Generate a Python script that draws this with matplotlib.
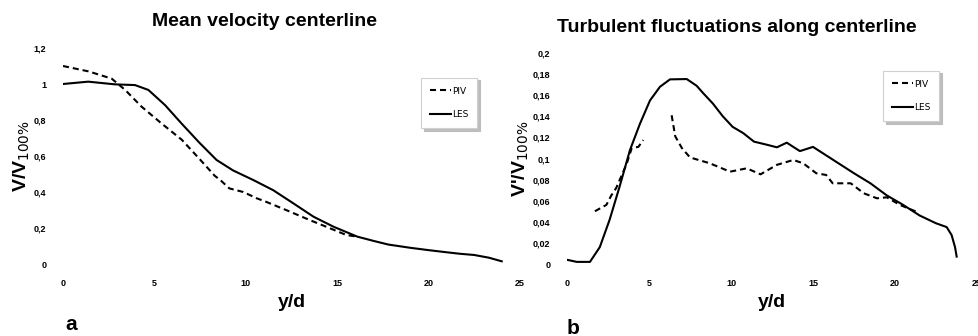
import matplotlib
matplotlib.use("Agg")
import matplotlib.pyplot as plt
from matplotlib.ticker import FuncFormatter

# panel a: mean velocity along centerline
a_piv_x = [0, 1.4, 2.66, 3.4, 4.3, 5.4, 6.5, 7.5, 8.3, 8.6, 9.1, 9.86, 10.6, 11.1, 12.2, 13.5, 14.4, 15.5, 16.1]
a_piv_y = [1.10, 1.07, 1.03, 0.967, 0.874, 0.78, 0.69, 0.58, 0.49, 0.467, 0.42, 0.40, 0.365, 0.346, 0.30, 0.244, 0.207, 0.161, 0.152]
a_les_x = [0, 1.38, 2.85, 3.94, 4.67, 5.58, 6.49, 7.45, 8.4, 9.3, 10.4, 11.5, 12.6, 13.7, 14.8, 16.1, 17.0, 17.8, 19.0, 20.0, 21.0, 21.7, 22.5, 23.3, 24.0]
a_les_y = [1.0, 1.013, 0.998, 0.994, 0.967, 0.883, 0.78, 0.675, 0.578, 0.52, 0.467, 0.41, 0.337, 0.263, 0.207, 0.152, 0.128, 0.108, 0.09, 0.077, 0.065, 0.057, 0.05, 0.035, 0.015]

# panel b: turbulent fluctuations along centerline
b_piv1_x = [1.7, 2.4, 2.7, 3.0, 3.64, 3.95, 4.35, 4.65]
b_piv1_y = [0.050, 0.056, 0.065, 0.072, 0.095, 0.110, 0.111, 0.1175]
b_piv2_x = [6.38, 6.6, 7.0, 7.5, 8.7, 9.94, 10.96, 11.8, 12.8, 13.8, 14.4, 15.2, 15.8, 16.2, 17.3, 18.1, 18.9, 19.5, 20.3, 21.3]
b_piv2_y = [0.141, 0.121, 0.110, 0.101, 0.0955, 0.0875, 0.0907, 0.085, 0.094, 0.0986, 0.0955, 0.086, 0.0844, 0.0765, 0.0765, 0.067, 0.0623, 0.0632, 0.056, 0.0496]
b_les_x = [0, 0.6, 1.4, 2.0, 2.6, 3.2, 3.84, 4.45, 5.06, 5.67, 6.28, 7.3, 7.9, 8.3, 8.9, 9.5, 10.1, 10.75, 11.4, 12.2, 12.8, 13.4, 14.2, 15.0, 15.8, 16.4, 17.5, 18.5, 19.5, 20.5, 21.5, 22.5, 23.15, 23.45, 23.66, 23.76]
b_les_y = [0.004, 0.002, 0.002, 0.016, 0.042, 0.073, 0.108, 0.133, 0.155, 0.168, 0.175, 0.1753, 0.169, 0.162, 0.152, 0.140, 0.130, 0.124, 0.116, 0.113, 0.1106, 0.115, 0.107, 0.111, 0.103, 0.097, 0.086, 0.0765, 0.065, 0.056, 0.046, 0.0386, 0.035, 0.0275, 0.016, 0.007]

a_yticks = [0, 0.2, 0.4, 0.6, 0.8, 1.0, 1.2]
b_yticks = [0, 0.02, 0.04, 0.06, 0.08, 0.1, 0.12, 0.14, 0.16, 0.18, 0.2]
xticks = [0, 5, 10, 15, 20, 25]

W, H = 979, 336
font = "Liberation Sans"
dash = (0, (2.9, 1.9))


def comma(v, pos):
	s = f"{v:.2f}".rstrip("0").rstrip(".")
	return s.replace(".", ",")


def style_axes(ax, ymax, yticks):
	ax.set_xlim(0, 25)
	ax.set_ylim(0, ymax)
	ax.set_xticks(xticks)
	ax.set_yticks(yticks)
	ax.yaxis.set_major_formatter(FuncFormatter(comma))
	for s in ax.spines.values():
		s.set_visible(False)
	ax.tick_params(length=0, labelsize=6.5)
	ax.tick_params(axis="x", pad=11)
	ax.tick_params(axis="y", pad=12)
	for lab in ax.get_xticklabels() + ax.get_yticklabels():
		lab.set_fontweight("bold")
		lab.set_family(font)


def add_legend(ax, x, y):
	leg = ax.legend(loc="upper right", bbox_to_anchor=(x / W, 1 - y / H), bbox_transform=fig.transFigure,
		fontsize=6.5, frameon=True, fancybox=False, shadow={"color": "#bdbdbd", "alpha": 1},
		handlelength=2.3, labelspacing=1.6, borderpad=1.0, handletextpad=0.1)
	leg.get_frame().set_edgecolor("#d0d0d0")
	leg.get_frame().set_linewidth(0.8)
	return leg


fig = plt.figure(figsize=(W / 100, H / 100), dpi=100)

ax_a = fig.add_axes([63 / W, (H - 264) / H, (520 - 63) / W, (264 - 48) / H])
ax_a.plot(a_piv_x, a_piv_y, color="black", lw=1.5, ls=dash, label="PIV")
ax_a.plot(a_les_x, a_les_y, color="black", lw=1.5, label="LES")
style_axes(ax_a, 1.2, a_yticks)
ax_a.set_ylabel("V/V$_{100\\%}$", fontsize=14, fontweight="bold", family=font, labelpad=1)
ax_a.set_xlabel("y/d", fontsize=14, fontweight="bold", family=font, labelpad=4)
fig.text(265 / W, 1 - 22 / H, "Mean velocity centerline", ha="center", va="center",
	fontsize=14, fontweight="bold", family=font)
fig.text(65 / W, 1 - 325 / H, "a", ha="left", va="center", fontsize=15, fontweight="bold", family=font)
add_legend(ax_a, 482, 73)

ax_b = fig.add_axes([567 / W, (H - 264) / H, (977 - 567) / W, (264 - 53) / H])
ax_b.plot(b_piv1_x, b_piv1_y, color="black", lw=1.5, ls=dash, label="PIV")
ax_b.plot(b_les_x, b_les_y, color="black", lw=1.5, label="LES")
ax_b.plot(b_piv2_x, b_piv2_y, color="black", lw=1.5, ls=dash)
style_axes(ax_b, 0.2, b_yticks)
ax_b.set_ylabel("V'/V$_{100\\%}$", fontsize=14, fontweight="bold", family=font, labelpad=1)
ax_b.set_xlabel("y/d", fontsize=14, fontweight="bold", family=font, labelpad=4)
fig.text(737 / W, 1 - 28 / H, "Turbulent fluctuations along centerline", ha="center", va="center",
	fontsize=14, fontweight="bold", family=font)
fig.text(567 / W, 1 - 328 / H, "b", ha="left", va="center", fontsize=15, fontweight="bold", family=font)
add_legend(ax_b, 944, 66)

plt.savefig("out.png", dpi=100)
